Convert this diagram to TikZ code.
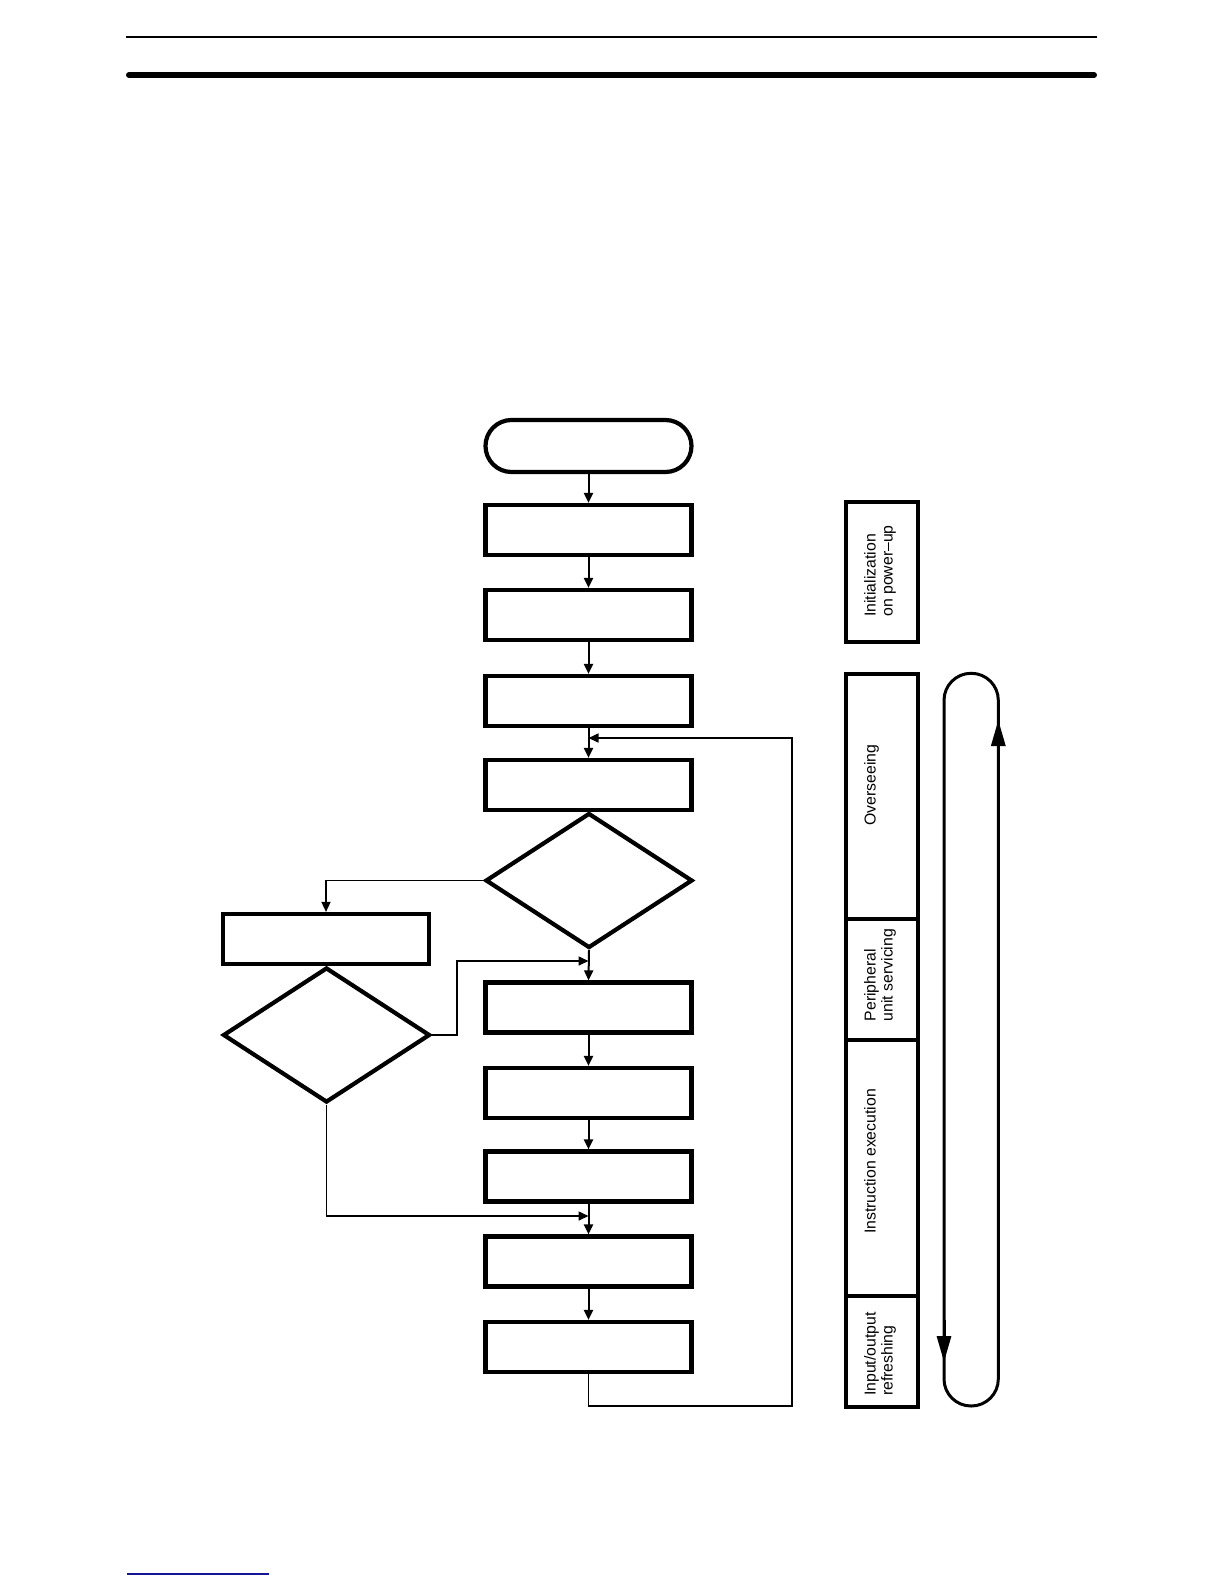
\documentclass[tikz,border=0pt]{standalone}
\usepackage{fontspec}
\setmainfont{Liberation Sans}
\usetikzlibrary{arrows.meta,shapes.geometric,shapes.misc}
\definecolor{footblue}{RGB}{20,20,150}

\begin{document}
\begin{tikzpicture}[x=1pt,y=-1pt,
  box/.style={draw,line width=4.2pt,inner sep=0pt,minimum width=206pt,minimum height=50pt},
  startbox/.style={box,rounded rectangle,minimum height=52pt},
  decision/.style={draw,diamond,line width=4.2pt,inner sep=0pt,minimum width=207pt,minimum height=135pt},
  phase/.style={draw,line width=4pt,inner sep=0pt,minimum width=72pt},
  phasetext/.style={rotate=90,anchor=north,inner sep=0pt,align=left,font=\fontsize{15.8pt}{17pt}\selectfont},
  flow/.style={line width=2pt,-{Triangle[length=10pt,width=9pt]}},
  back/.style={line width=1.6pt,-{Triangle[length=10pt,width=9pt]}},
  looppath/.style={line width=3pt}]
\useasboundingbox (0,0) rectangle (1224,1584);

% page rules
\draw[line width=2pt] (126,37.5) -- (1097,37.5);
\draw[line width=6pt,line cap=round] (129,75) -- (1094,75);
\draw[footblue,line width=1.3pt] (127,1574) -- (269,1574);

% flowchart
\node[startbox] (st) at (588.5,446) {};
\node[box] (b1) at (588.5,530) {};
\node[box] (b2) at (588.5,615) {};
\node[box] (b3) at (588.5,701) {};
\node[box] (b4) at (588.5,785) {};
\node[decision] (d1) at (589,880.5) {};
\node[box] (lb) at (326,939) {};
\node[decision] (d2) at (326.5,1035) {};
\node[box] (b5) at (588.5,1007.5) {};
\node[box] (b6) at (588.5,1093) {};
\node[box] (b7) at (588.5,1176.5) {};
\node[box] (b8) at (588.5,1261.5) {};
\node[box] (b9) at (588.5,1347) {};

\coordinate (j0) at (588.5,738);
\coordinate (j1) at (588.5,961);
\coordinate (j2) at (588.5,1216);
\coordinate (fb) at (792,1406);

\draw[flow] (st.south) -- (b1.north);
\draw[flow] (b1.south) -- (b2.north);
\draw[flow] (b2.south) -- (b3.north);
\draw[flow] (b3.south) -- (b4.north);
\draw[back] (d1.west) -| (lb.north);
\draw[flow] (d1.south) -- (b5.north);
\draw[back] (d2.east) -- ++(25,0) |- (j1);
\draw[flow] (b5.south) -- (b6.north);
\draw[flow] (b6.south) -- (b7.north);
\draw[back] (d2.south) |- (j2);
\draw[flow] (b7.south) -- (b8.north);
\draw[flow] (b8.south) -- (b9.north);
\draw[back] (b9.south) |- (fb) |- (j0);

% phases
\node[phase,minimum height=140pt] (pinit) at (882,572) {};
\node[phase,minimum height=245pt] (pover) at (882,796.2) {};
\node[phase,minimum height=121.3pt] (pserv) at (882,979.3) {};
\node[phase,minimum height=256pt] (pexec) at (882,1168) {};
\node[phase,minimum height=111pt] (pio) at (882,1351.5) {};

\node[phasetext] (tinit) at (864,571) {Initialization\\on power–up};
\node[phasetext] (tover) at (864,785) {Overseeing};
\node[phasetext] (tserv) at (864,975) {Peripheral\\unit servicing};
\node[phasetext] (texec) at (864,1161.5) {Instruction execution};
\node[phasetext] (tio) at (864,1354) {Input/output\\refreshing};

% scan cycle
\draw[looppath,rounded corners=27pt] (944,673.3) rectangle (998.3,1406);
\draw[looppath,-{Triangle[length=26pt,width=14pt]}] (998.3,760) -- (998.3,720);
\draw[looppath,-{Triangle[length=26pt,width=14pt]}] (944,1320) -- (944,1362);
\end{tikzpicture}
\end{document}
